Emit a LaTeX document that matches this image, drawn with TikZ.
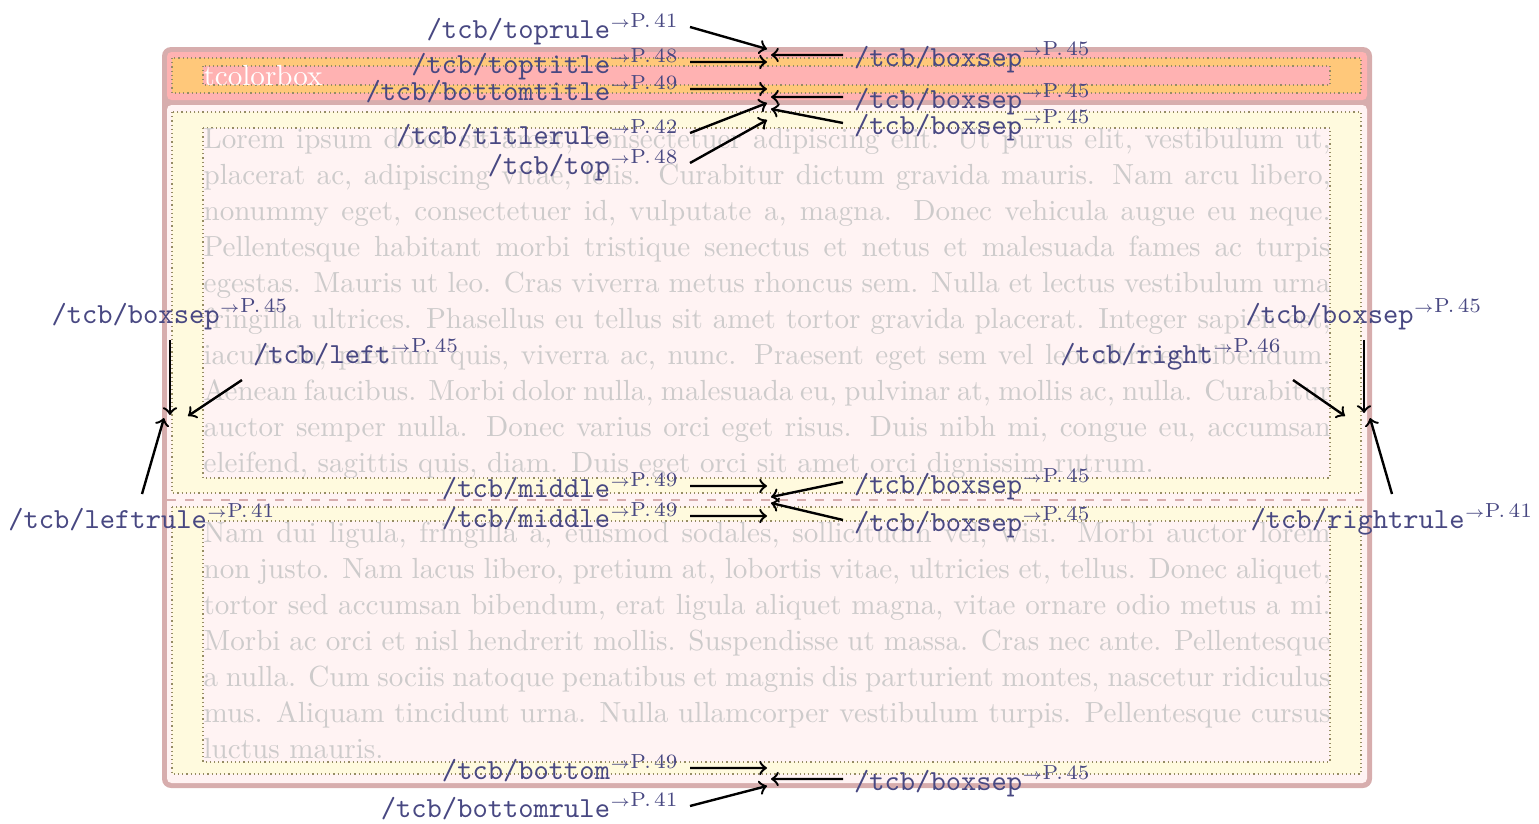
\documentclass[tikz,border=0pt]{standalone}
\definecolor{framecol}{RGB}{215,173,173}
\definecolor{titlebg}{RGB}{255,178,178}
\definecolor{titlesep}{RGB}{255,200,122}
\definecolor{bodybg}{RGB}{255,243,243}
\definecolor{bodysep}{RGB}{255,250,222}
\definecolor{dotcol}{RGB}{150,140,100}
\definecolor{loremcol}{RGB}{205,203,203}
\definecolor{keycol}{RGB}{72,72,130}
\newcommand\refpage[1]{\textsuperscript{$\scriptscriptstyle\rightarrow$P.\,#1}}
\newcommand\tcbkey[2]{\texttt{/tcb/#1}\refpage{#2}}
\begin{document}
\begin{tikzpicture}[x=0.3333pt, y=-0.3333pt, line join=round, >=to, font=\fontsize{9.7pt}{12pt}\selectfont]
\tikzset{keylbl/.style={text=keycol, inner xsep=3.5pt, text height=6pt, text depth=2pt},
  lkey/.style={keylbl, anchor=base east},
  rkey/.style={keylbl, anchor=base west},
  dimarrow/.style={->, line width=0.8pt},
  sepbox/.style={draw=dotcol, densely dotted, line width=0.4pt},
  lorem/.style={text=loremcol, text width=375.67pt, align=justify, inner sep=0pt, anchor=north west}}
\useasboundingbox (0,0) rectangle (1539,823);
\fill[framecol, rounded corners=3pt] (162,47) rectangle (1372,788);
\fill[titlebg, rounded corners=1.5pt] (167,52) rectangle (1367,100);
\fill[bodybg, rounded corners=1.5pt] (167,105) rectangle (1367,783);
\filldraw[sepbox, fill=titlesep] (172,58) rectangle (1361,93);
\filldraw[sepbox, fill=titlebg] (203,66) rectangle (1330,85);
\filldraw[sepbox, fill=bodysep] (172,112) rectangle (1361,493);
\filldraw[sepbox, fill=bodybg] (203,128) rectangle (1330,478);
\filldraw[sepbox, fill=bodysep] (172,507) rectangle (1361,774);
\filldraw[sepbox, fill=bodybg] (203,521) rectangle (1330,762);
\draw[framecol, dashed] (167,500) -- (1367,500);
\node[white, anchor=base west, inner sep=0pt] (title) at (203,85) {tcolorbox};
\node[lorem] (upper) at (203,128) {\hyphenpenalty=10000 Lorem ipsum dolor sit amet, consectetuer adipiscing elit. Ut purus elit, vestibulum ut,\linebreak
placerat ac, adipiscing vitae, felis. Curabitur dictum gravida mauris. Nam arcu libero,\linebreak
nonummy eget, consectetuer id, vulputate a, magna. Donec vehicula augue eu neque.\linebreak
Pellentesque habitant morbi tristique senectus et netus et malesuada fames ac turpis\linebreak
egestas. Mauris ut leo. Cras viverra metus rhoncus sem. Nulla et lectus vestibulum urna\linebreak
fringilla ultrices. Phasellus eu tellus sit amet tortor gravida placerat. Integer sapien est,\linebreak
iaculis in, pretium quis, viverra ac, nunc. Praesent eget sem vel leo ultrices bibendum.\linebreak
Aenean faucibus. Morbi dolor nulla, malesuada eu, pulvinar at, mollis ac, nulla. Curabitur\linebreak
auctor semper nulla. Donec varius orci eget risus. Duis nibh mi, congue eu, accumsan\linebreak
eleifend, sagittis quis, diam. Duis eget orci sit amet orci dignissim rutrum.};
\node[lorem] (lower) at (203,521) {\hyphenpenalty=10000 Nam dui ligula, fringilla a, euismod sodales, sollicitudin vel, wisi. Morbi auctor lorem\linebreak
non justo. Nam lacus libero, pretium at, lobortis vitae, ultricies et, tellus. Donec aliquet,\linebreak
tortor sed accumsan bibendum, erat ligula aliquet magna, vitae ornare odio metus a mi.\linebreak
Morbi ac orci et nisl hendrerit mollis. Suspendisse ut massa. Cras nec ante. Pellentesque\linebreak
a nulla. Cum sociis natoque penatibus et magnis dis parturient montes, nascetur ridiculus\linebreak
mus. Aliquam tincidunt urna. Nulla ullamcorper vestibulum turpis. Pellentesque cursus\linebreak
luctus mauris.};
\coordinate (ptoprule) at (767,49);
\coordinate (psepA) at (771,55);
\coordinate (ptoptitle) at (767,62);
\coordinate (pbottomtitle) at (767,89);
\coordinate (psepB) at (771,97);
\coordinate (ptitlerule) at (767,103);
\coordinate (psepC) at (771,109);
\coordinate (ptop) at (767,120);
\coordinate (pmidA) at (767,486);
\coordinate (psepD) at (771,497);
\coordinate (psepE) at (771,503);
\coordinate (pmidB) at (767,516);
\coordinate (pbottom) at (767,768);
\coordinate (psepF) at (771,779);
\coordinate (pbottomrule) at (767,786);
\coordinate (psepL) at (170,415);
\coordinate (pleft) at (188,416);
\coordinate (pleftrule) at (164,418);
\coordinate (psepR) at (1364,413);
\coordinate (pright) at (1345,416);
\coordinate (prightrule) at (1370,418);
\node[lkey] (toprule) at (690,38) {\tcbkey{toprule}{41}};
\node[lkey] (toptitle) at (690,73) {\tcbkey{toptitle}{48}};
\node[lkey] (bottomtitle) at (690,100) {\tcbkey{bottomtitle}{49}};
\node[lkey] (titlerule) at (690,144) {\tcbkey{titlerule}{42}};
\node[lkey] (top) at (690,174) {\tcbkey{top}{48}};
\node[rkey] (sepA) at (843,66) {\tcbkey{boxsep}{45}};
\node[rkey] (sepB) at (843,108) {\tcbkey{boxsep}{45}};
\node[rkey] (sepC) at (843,134) {\tcbkey{boxsep}{45}};
\node[lkey] (midA) at (690,497) {\tcbkey{middle}{49}};
\node[lkey] (midB) at (690,527) {\tcbkey{middle}{49}};
\node[rkey] (sepD) at (843,493) {\tcbkey{boxsep}{45}};
\node[rkey] (sepE) at (843,531) {\tcbkey{boxsep}{45}};
\node[lkey] (bottom) at (690,779) {\tcbkey{bottom}{49}};
\node[rkey] (sepF) at (843,790) {\tcbkey{boxsep}{45}};
\node[lkey] (bottomrule) at (690,817) {\tcbkey{bottomrule}{41}};
\node[keylbl, anchor=south] (sepL) at (170,340) {\tcbkey{boxsep}{45}};
\node[keylbl, anchor=south west] (left) at (242,380) {\tcbkey{left}{45}};
\node[keylbl, anchor=north, inner ysep=5.3pt] (leftrule) at (142,494) {\tcbkey{leftrule}{41}};
\node[keylbl, anchor=south] (sepR) at (1364,340) {\tcbkey{boxsep}{45}};
\node[keylbl, anchor=south east] (right) at (1293,380) {\tcbkey{right}{46}};
\node[keylbl, anchor=north, inner ysep=5.3pt] (rightrule) at (1392,494) {\tcbkey{rightrule}{41}};
\draw[dimarrow] ([yshift=3.67pt]toprule.base east) -- (ptoprule);
\draw[dimarrow] ([yshift=3.67pt]toptitle.base east) -- (ptoptitle);
\draw[dimarrow] ([yshift=3.67pt]bottomtitle.base east) -- (pbottomtitle);
\draw[dimarrow] ([yshift=3.67pt]titlerule.base east) -- (ptitlerule);
\draw[dimarrow] ([yshift=3.67pt]top.base east) -- (ptop);
\draw[dimarrow] ([yshift=3.67pt]sepA.base west) -- (psepA);
\draw[dimarrow] ([yshift=3.67pt]sepB.base west) -- (psepB);
\draw[dimarrow] ([yshift=3.67pt]sepC.base west) -- (psepC);
\draw[dimarrow] ([yshift=3.67pt]midA.base east) -- (pmidA);
\draw[dimarrow] ([yshift=3.67pt]midB.base east) -- (pmidB);
\draw[dimarrow] ([yshift=3.67pt]sepD.base west) -- (psepD);
\draw[dimarrow] ([yshift=3.67pt]sepE.base west) -- (psepE);
\draw[dimarrow] ([yshift=3.67pt]bottom.base east) -- (pbottom);
\draw[dimarrow] ([yshift=3.67pt]sepF.base west) -- (psepF);
\draw[dimarrow] ([yshift=3.67pt]bottomrule.base east) -- (pbottomrule);
\draw[dimarrow] (sepL.south) -- (psepL);
\draw[dimarrow] (left.south west) -- (pleft);
\draw[dimarrow] (leftrule.north) -- (pleftrule);
\draw[dimarrow] (sepR.south) -- (psepR);
\draw[dimarrow] (right.south east) -- (pright);
\draw[dimarrow] (rightrule.north) -- (prightrule);
\end{tikzpicture}
\end{document}
